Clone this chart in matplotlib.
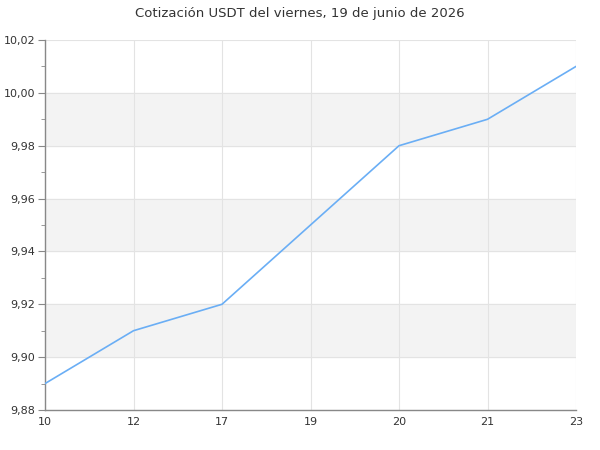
import matplotlib
matplotlib.use('Agg')
import matplotlib.pyplot as plt
from matplotlib.ticker import MultipleLocator, FuncFormatter

dias = ['10', '12', '17', '19', '20', '21', '23']
precios = [9.89, 9.91, 9.92, 9.95, 9.98, 9.99, 10.01]

fig = plt.figure(figsize=(6, 4.5), dpi=100)
ax = fig.add_axes([0.075, 0.0889, 0.885, 0.8222])

x = list(range(len(dias)))
ax.set_xlim(0, len(dias) - 1)
ax.set_ylim(9.88, 10.02)

# bandas grises alternas
for y0 in [9.90, 9.94, 9.98]:
    ax.axhspan(y0, y0 + 0.02, color='#f3f3f3', zorder=0)

ax.plot(x, precios, color='#6aaef5', lw=1.2, zorder=3)

ax.set_xticks(x)
ax.set_xticklabels(dias)
ax.yaxis.set_major_locator(MultipleLocator(0.02))
ax.yaxis.set_minor_locator(MultipleLocator(0.01))
ax.yaxis.set_major_formatter(FuncFormatter(lambda v, p: f'{v:.2f}'.replace('.', ',')))

ax.grid(True, which='major', color='#e3e3e3', lw=0.8, zorder=1)
ax.set_axisbelow(True)

for s in ['top', 'right']:
    ax.spines[s].set_visible(False)
for s in ['left', 'bottom']:
    ax.spines[s].set_color('#888888')
    ax.spines[s].set_linewidth(1)

ax.tick_params(axis='y', which='major', length=5, color='#888888', labelsize=8, labelcolor='#333333', pad=2)
ax.tick_params(axis='y', which='minor', length=3, color='#888888')
ax.tick_params(axis='x', length=0, labelsize=8, labelcolor='#333333', pad=5)

fig.suptitle('Cotización USDT del viernes, 19 de junio de 2026', y=0.985, fontsize=9.5, color='#333333')

fig.savefig('out.png')
